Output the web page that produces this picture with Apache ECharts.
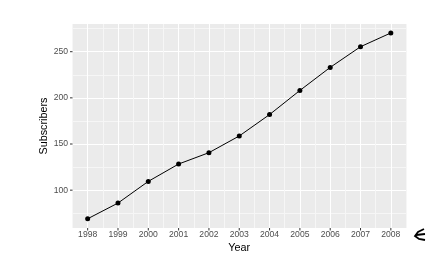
<!DOCTYPE html>
<html>
<head>
<meta charset="utf-8">
<script src="https://cdn.jsdelivr.net/npm/echarts@6/dist/echarts.min.js"></script>
<style>
  html, body { margin: 0; padding: 0; background: #fff; }
  #chart { width: 427px; height: 262px; }
</style>
</head>
<body>
<div id="chart"></div>
<script>
// data
var years = [1998, 1999, 2000, 2001, 2002, 2003, 2004, 2005, 2006, 2007, 2008];
var subscribers = [69, 86, 109.5, 128.3, 140.6, 158.7, 181.9, 208, 233, 255.4, 270.3];

var chart = echarts.init(document.getElementById('chart'));
var points = years.map(function (y, i) { return [y, subscribers[i]]; });

// y ticks run every 1 from 59, so gridline colours repeat every 50 ticks:
// index 16 -> 75, 125, ... (minor), index 41 -> 100, 150, ... (major)
var yLineColors = [];
for (var i = 0; i < 50; i++) {
  yLineColors.push(i === 41 ? '#FFFFFF' : (i === 16 ? '#F6F6F6' : 'rgba(0,0,0,0)'));
}

var option = {
  animation: false,
  grid: { left: 72.5, right: 21, top: 24, bottom: 34, show: true, backgroundColor: '#EBEBEB', borderWidth: 0 },
  xAxis: {
    type: 'value',
    min: 1997.5, max: 2008.5, interval: 0.5,
    name: 'Year', nameLocation: 'middle', nameGap: 15, nameMoveOverlap: false,
    nameTextStyle: { color: '#000', fontSize: 10.8, fontFamily: 'Liberation Sans' },
    axisLine: { show: false },
    axisTick: { show: false },
    axisLabel: {
      margin: 0,
      showMinLabel: false, showMaxLabel: false,
      formatter: function (v) { return v % 1 === 0 ? '{t|}\n{l|' + v + '}' : ''; },
      rich: {
        t: { width: 1, height: 2.5, backgroundColor: '#333333', align: 'center' },
        l: { color: '#4D4D4D', fontSize: 8.6, fontFamily: 'Liberation Sans', lineHeight: 9, align: 'center' }
      }
    },
    splitLine: { show: true, lineStyle: { color: ['#F6F6F6', '#FFFFFF'], width: 1 } }
  },
  yAxis: {
    type: 'value',
    min: 59, max: 280, interval: 1,
    name: 'Subscribers', nameLocation: 'middle', nameGap: 23, nameRotate: 90, nameMoveOverlap: false,
    nameTextStyle: { color: '#000', fontSize: 10.8, fontFamily: 'Liberation Sans' },
    axisLine: { show: false },
    axisTick: { show: false },
    axisLabel: {
      margin: 0,
      showMinLabel: false, showMaxLabel: false,
      formatter: function (v) { return v % 50 === 0 ? '{l|' + v + '}{t|}' : ''; },
      rich: {
        l: { color: '#4D4D4D', fontSize: 8.6, fontFamily: 'Liberation Sans', padding: [0, 2, 0, 0] },
        t: { width: 2.5, height: 1, backgroundColor: '#333333' }
      }
    },
    splitLine: { show: true, lineStyle: { color: yLineColors, width: 1 } }
  },
  series: [{
    type: 'line',
    data: points,
    symbol: 'circle', symbolSize: 5,
    itemStyle: { color: '#000' },
    lineStyle: { color: '#000', width: 1 }
  }],
  graphic: [{
    type: 'polyline',
    shape: { points: [[424, 229], [418, 232], [415, 236], [419, 239], [425, 240]] },
    style: { fill: null, stroke: '#000', lineWidth: 1.8 }
  }, {
    type: 'line',
    shape: { x1: 416, y1: 235, x2: 425, y2: 234 },
    style: { stroke: '#000', lineWidth: 1.8 }
  }]
};
chart.setOption(option);
</script>
</body>
</html>
